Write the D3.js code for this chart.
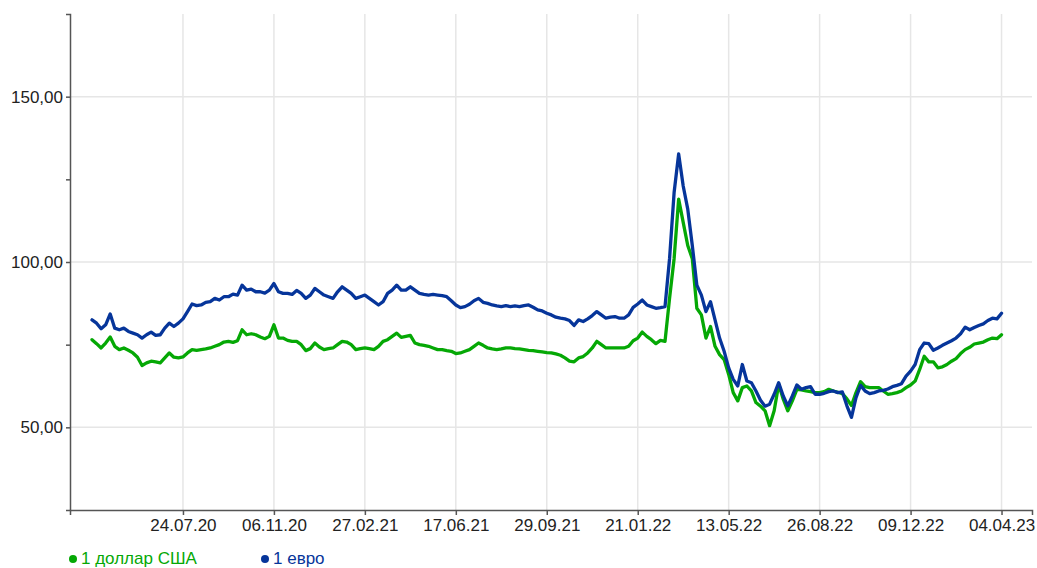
<!DOCTYPE html>
<html><head><meta charset="utf-8">
<script src="https://cdn.jsdelivr.net/npm/d3@7"></script>
<style>
html,body{margin:0;padding:0;background:#fff;}
svg{display:block;font-family:"Liberation Sans",Arial,sans-serif;}
</style></head>
<body><svg id="c" width="1037" height="568"></svg>
<script>
// tick labels placed every 20 samples along the sample index
const tickLabels = ["24.07.20","06.11.20","27.02.21","17.06.21","29.09.21","21.01.22","13.05.22","26.08.22","09.12.22","04.04.23"];
const tickIndex = [20,40,60,80,100,120,140,160,180,200];
const yTicks = [50,75,100,125,150];
const seriesNames = ["1 доллар США","1 евро"];

const usd = [76.5,75.3,74,75.5,77.3,74.5,73.5,74,73.3,72.5,
71.2,68.7,69.5,70,69.8,69.5,71,72.5,71.2,71,
71.3,72.5,73.5,73.3,73.5,73.7,74,74.5,75,75.8,
76,75.7,76.2,79.5,78,78.3,78,77.3,76.8,77.5,
81,77,77,76.3,76,76,75,73.2,73.8,75.5,
74.3,73.5,73.8,74,75,76,75.8,75,73.5,73.8,
74,73.8,73.5,74.5,76,76.5,77.5,78.5,77.2,77.5,
77.8,75.5,75,74.8,74.5,74,73.5,73.5,73.2,73,
72.3,72.5,73,73.5,74.5,75.5,74.8,74,73.7,73.5,
73.7,74,74,73.8,73.7,73.5,73.3,73.2,73,72.8,
72.6,72.5,72.2,71.8,71,70,69.8,71,71.4,72.5,
74,76,75,74,74,74,74,74,74.5,76.2,
77,78.8,77.5,76.5,75.3,76.3,76,89,101,119,
112,105,101,86,84,77,80.5,74.5,72,70.5,
66,60.5,58,62,62.5,61,57.5,56.4,55,50.5,
55,63,58.5,55,58,61.5,61.3,61,60.8,60.5,
60.5,60.8,61.5,61,60.6,60.2,58.6,56.6,60.5,63.8,
62.3,62,62,62,61,60,60.2,60.5,61,62,
62.8,64,67.5,71.5,69.8,69.8,68,68.3,69,70,
70.8,72.3,73.5,74.2,75.2,75.5,75.8,76.5,77,76.8,
78];

const eur = [82.5,81.5,79.8,81,84.3,80,79.5,80,79,78.5,
78,77,78,78.8,77.8,78,80,81.5,80.5,81.5,
82.8,85,87.3,86.8,87,87.8,88,89,88.5,89.5,
89.5,90.3,90,93,91.5,91.8,91,91,90.6,91.5,
93.5,91,90.5,90.5,90.2,91.4,90.5,89,90,92,
91,90,89.5,89,91,92.5,91.5,90.5,89,89.5,
90,89,88,87,88,90.5,91.5,93,91.5,91.5,
92.5,91.5,90.5,90.2,90,90.2,90,89.8,89.5,88.3,
87,86.2,86.5,87.2,88.3,89,87.8,87.5,87,86.7,
86.5,86.8,86.5,86.7,86.5,86.8,87,86.3,85.5,85.2,
84.5,84,83.3,83,82.8,82.3,80.8,82.5,82,82.8,
83.8,85,84,83,83.3,83.5,83,83,84,86.3,
87.3,88.5,87,86.5,86,86.2,86.5,101,121,132.7,
123,116,105,93,90,85,88,82.5,77,73,
68,64.5,62.5,69,64,63.5,61,58.2,56.4,57,
60,63.5,59.5,56.5,59.5,62.8,61.5,62,62.3,60,
60,60.3,60.8,61,60.5,60.7,56.5,53,59,62.7,
61,60.2,60.5,61,61.2,61.6,62.3,62.7,63.2,65.5,
67,69,73.5,75.5,75.3,73.3,74,74.8,75.5,76.2,
77,78.3,80.3,79.5,80.2,80.8,81.3,82.3,83,82.8,
84.5];

const colors = ["#05a805","#06359a"];

const svg = d3.select("#c");
const mLeft = 70, mRight = 1032, mTop = 14, mBottom = 510;
const x = d3.scaleLinear().domain([-4.84, 206.7]).range([mLeft, mRight]);
const y = d3.scaleLinear().domain([25, 175]).range([mBottom, mTop]);

// grid
svg.append("g").selectAll("line").data(tickIndex).join("line")
  .attr("x1", d => x(d)).attr("x2", d => x(d)).attr("y1", mTop).attr("y2", mBottom)
  .attr("stroke", "#e6e6e6").attr("stroke-width", 1.5);
svg.append("g").selectAll("line").data([50,100,150]).join("line")
  .attr("x1", mLeft).attr("x2", mRight).attr("y1", d => y(d)).attr("y2", d => y(d))
  .attr("stroke", "#e6e6e6").attr("stroke-width", 1.5);

// lines
const line = d3.line().x((d, i) => x(i)).y(d => y(d));
[usd, eur].forEach((s, k) => {
  svg.append("path").datum(s).attr("d", line)
    .attr("fill", "none").attr("stroke", colors[k]).attr("stroke-width", 3.3)
    .attr("stroke-linejoin", "round").attr("stroke-linecap", "round");
});

// axes
const fmt = d => (d % 50 === 0) ? d.toFixed(2).replace(".", ",") : "";
const ya = svg.append("g").attr("transform", `translate(${mLeft},0)`)
  .call(d3.axisLeft(y).tickValues(yTicks).tickFormat(fmt).tickSize(4).tickSizeOuter(4));
const xa = svg.append("g").attr("transform", `translate(0,${mBottom})`)
  .call(d3.axisBottom(x).tickValues(tickIndex).tickFormat((d, i) => tickLabels[i]).tickSize(5).tickSizeOuter(5));
[ya, xa].forEach(g => {
  g.selectAll("path,line").attr("stroke", "#555").attr("stroke-width", 1.5);
  g.selectAll("text").attr("fill", "#222").style("font-size", "17px").style("font-family", "'Liberation Sans',Arial,sans-serif");
});
ya.selectAll("text").attr("x", -7);
xa.selectAll("text").attr("y", 9);

// legend
const lg = svg.append("g");
const lx = [73, 265];
seriesNames.forEach((n, k) => {
  lg.append("circle").attr("cx", lx[k]).attr("cy", 559).attr("r", 4).attr("fill", colors[k]);
  lg.append("text").attr("x", lx[k] + 8).attr("y", 564).text(n)
    .attr("fill", colors[k]).style("font-size", "17px");
});
</script></body></html>
